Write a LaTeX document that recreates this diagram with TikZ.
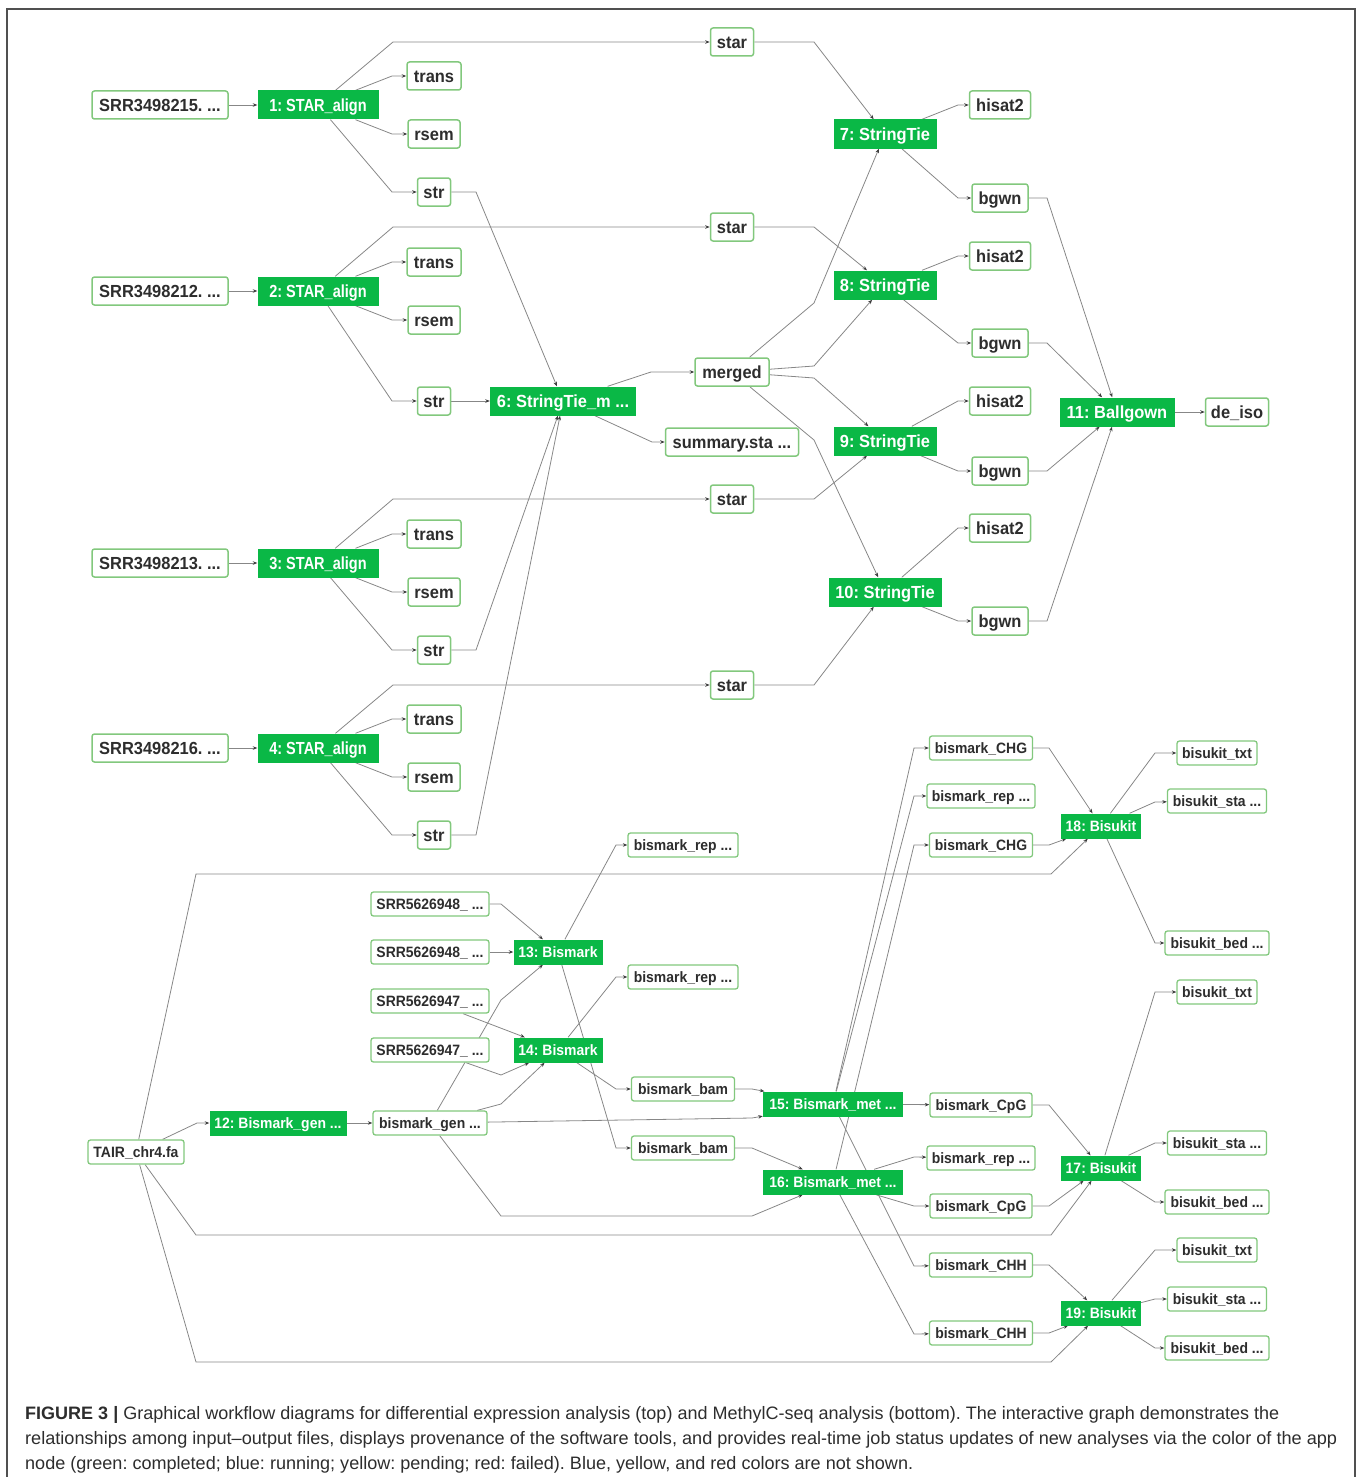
\documentclass[tikz,border=0pt]{standalone}
\usepackage{fontspec}
\usepackage{graphicx}
\usetikzlibrary{arrows.meta,backgrounds}
\frenchspacing
\newfontfamily\lsans{Liberation Sans}
\newfontfamily\lsansn[FakeStretch=0.94]{Liberation Sans}
\newfontfamily\lsanss[FakeStretch=0.93]{Liberation Sans}
\newfontfamily\lsansc[FakeStretch=0.83]{Liberation Sans}
\definecolor{appg}{RGB}{10,184,70}
\definecolor{boxg}{RGB}{130,200,125}
\definecolor{txtd}{RGB}{45,45,45}
\definecolor{edgec}{RGB}{135,135,135}
\definecolor{tipc}{RGB}{60,60,60}
\definecolor{framec}{RGB}{80,80,80}
\newcommand{\bigf}{\lsansn\bfseries\fontsize{17.5}{19}\selectfont}
\newcommand{\bigfc}{\lsansc\bfseries\fontsize{17.5}{19}\selectfont}
\newcommand{\smallf}{\lsanss\bfseries\fontsize{15}{17}\selectfont}
\newcommand{\capf}{\lsans\fontsize{18}{20}\selectfont}
\tikzset{
  fnode/.style={draw=boxg, line width=1.5pt, rounded corners=2.5pt, fill=white, text=txtd,
    font=\bigf, inner xsep=4pt, inner ysep=0pt, minimum height=28pt,
    text height=12.5pt, text depth=0pt, minimum width=#1},
  anode/.style={fill=appg, text=white, font=\bigf, inner xsep=4pt, inner ysep=0pt,
    minimum height=29pt, text height=12.5pt, text depth=0pt, minimum width=#1},
  sfnode/.style={fnode=#1, font=\smallf, minimum height=24pt, line width=1.3pt, text height=10.7pt},
  sanode/.style={anode=#1, font=\smallf, minimum height=25pt, text height=10.7pt},
  edge/.style={draw=edgec, line width=0.8pt, -{Stealth[length=4.5pt,width=3.5pt,color=tipc]}},
  capline/.style={anchor=base west, inner sep=0pt, text=txtd}
}
\begin{document}
\begin{tikzpicture}[x=1pt,y=-1pt]
\useasboundingbox (0,0) rectangle (1358,1477);
\draw[framec, line width=1.5pt] (7,1495) -- (7,9) -- (1355,9) -- (1355,1495);

% ---------- top workflow ----------
\node[fnode=136] (srr1) at (160,105) {SRR3498215. ...};
\node[anode=121, font=\bigfc] (sa1) at (318,105) {1: STAR\_align};
\node[fnode=54] (tr1) at (434,76) {trans};
\node[fnode=52] (rs1) at (434,134) {rsem};
\node[fnode=33] (str1) at (434,192) {str};
\node[fnode=43] (sta1) at (732,42) {star};
\node[anode=103] (sti7) at (885,134) {7: StringTie};
\node[fnode=61] (hs7) at (1000,105) {hisat2};
\node[fnode=56] (bg7) at (1000,198) {bgwn};

\node[fnode=136] (srr2) at (160,291) {SRR3498212. ...};
\node[anode=121, font=\bigfc] (sa2) at (318,291) {2: STAR\_align};
\node[fnode=54] (tr2) at (434,262) {trans};
\node[fnode=52] (rs2) at (434,320) {rsem};
\node[fnode=33] (str2) at (434,401) {str};
\node[fnode=43] (sta2) at (732,227) {star};
\node[anode=103] (sti8) at (885,285) {8: StringTie};
\node[fnode=61] (hs8) at (1000,256) {hisat2};
\node[fnode=56] (bg8) at (1000,343) {bgwn};

\node[anode=146] (stm) at (563,401) {6: StringTie\_m ...};
\node[fnode=74] (mrg) at (732,372) {merged};
\node[fnode=133] (sum) at (732,442) {summary.sta ...};
\node[fnode=61] (hs9) at (1000,401) {hisat2};
\node[anode=103] (sti9) at (885,441) {9: StringTie};
\node[fnode=56] (bg9) at (1000,471) {bgwn};
\node[anode=115] (bal) at (1117,412) {11: Ballgown};
\node[fnode=63] (deiso) at (1237,412) {de\_iso};

\node[fnode=43] (sta3) at (732,499) {star};
\node[fnode=136] (srr3) at (160,563) {SRR3498213. ...};
\node[anode=121, font=\bigfc] (sa3) at (318,563) {3: STAR\_align};
\node[fnode=54] (tr3) at (434,534) {trans};
\node[fnode=52] (rs3) at (434,592) {rsem};
\node[fnode=33] (str3) at (434,650) {str};
\node[fnode=61] (hs10) at (1000,528) {hisat2};
\node[anode=113] (sti10) at (885,592) {10: StringTie};
\node[fnode=56] (bg10) at (1000,621) {bgwn};

\node[fnode=43] (sta4) at (732,685) {star};
\node[fnode=136] (srr4) at (160,748) {SRR3498216. ...};
\node[anode=121, font=\bigfc] (sa4) at (318,748) {4: STAR\_align};
\node[fnode=54] (tr4) at (434,719) {trans};
\node[fnode=52] (rs4) at (434,777) {rsem};
\node[fnode=33] (str4) at (434,835) {str};

% ---------- bottom workflow ----------
\node[sfnode=103] (chg1) at (981,748) {bismark\_CHG};
\node[sfnode=108] (rep15) at (981,796) {bismark\_rep ...};
\node[sfnode=103] (chg2) at (981,845) {bismark\_CHG};
\node[sfnode=80] (txt18) at (1217,753) {bisukit\_txt};
\node[sfnode=99] (sta18) at (1217,801) {bisukit\_sta ...};
\node[sanode=80] (bk18) at (1101,826) {18: Bisukit};
\node[sfnode=104] (bed18) at (1217,943) {bisukit\_bed ...};
\node[sfnode=110] (rep13) at (683,845) {bismark\_rep ...};
\node[sfnode=118] (s48a) at (430,904) {SRR5626948\_ ...};
\node[sfnode=118] (s48b) at (430,952) {SRR5626948\_ ...};
\node[sanode=89] (bm13) at (558,952) {13: Bismark};
\node[sfnode=110] (rep14) at (683,977) {bismark\_rep ...};
\node[sfnode=80] (txt17) at (1217,992) {bisukit\_txt};
\node[sfnode=118] (s47a) at (430,1001) {SRR5626947\_ ...};
\node[sfnode=118] (s47b) at (430,1050) {SRR5626947\_ ...};
\node[sanode=89] (bm14) at (558,1050) {14: Bismark};
\node[sfnode=103] (bam1) at (683,1089) {bismark\_bam};
\node[sanode=140] (met15) at (833,1104) {15: Bismark\_met ...};
\node[sfnode=102] (cpg15) at (981,1105) {bismark\_CpG};
\node[sanode=137] (bg12) at (278,1123) {12: Bismark\_gen ...};
\node[sfnode=114] (bgen) at (430,1123) {bismark\_gen ...};
\node[sfnode=96] (tair) at (136,1152) {TAIR\_chr4.fa};
\node[sfnode=103] (bam2) at (683,1148) {bismark\_bam};
\node[sfnode=108] (rep16) at (981,1158) {bismark\_rep ...};
\node[sanode=140] (met16) at (833,1182) {16: Bismark\_met ...};
\node[sfnode=102] (cpg16) at (981,1206) {bismark\_CpG};
\node[sfnode=99] (sta17) at (1217,1143) {bisukit\_sta ...};
\node[sanode=80] (bk17) at (1101,1168) {17: Bisukit};
\node[sfnode=104] (bed17) at (1217,1202) {bisukit\_bed ...};
\node[sfnode=103] (chh1) at (981,1265) {bismark\_CHH};
\node[sfnode=80] (txt19) at (1217,1250) {bisukit\_txt};
\node[sfnode=99] (sta19) at (1217,1299) {bisukit\_sta ...};
\node[sanode=80] (bk19) at (1101,1313) {19: Bisukit};
\node[sfnode=103] (chh2) at (981,1333) {bismark\_CHH};
\node[sfnode=104] (bed19) at (1217,1348) {bisukit\_bed ...};

% ---------- caption ----------
\node[capline] (cap1) at (25,1419) {\resizebox{1254pt}{\height}{\capf\textbf{FIGURE 3 |} Graphical workflow diagrams for differential expression analysis (top) and MethylC-seq analysis (bottom). The interactive graph demonstrates the}};
\node[capline] (cap2) at (25,1444) {\resizebox{1312pt}{\height}{\capf relationships among input–output files, displays provenance of the software tools, and provides real-time job status updates of new analyses via the color of the app}};
\node[capline] (cap3) at (25,1469) {\resizebox{888pt}{\height}{\capf node (green: completed; blue: running; yellow: pending; red: failed). Blue, yellow, and red colors are not shown.}};

\begin{pgfonlayer}{background}
% top edges
\draw[edge] (srr1) -- (sa1);
\draw[edge] (sa1) -- (393,42) -- (sta1);
\draw[edge] (sa1) -- (392,76) -- (tr1);
\draw[edge] (sa1) -- (392,134) -- (rs1);
\draw[edge] (sa1) -- (392,192) -- (str1);
\draw[edge] (str1) -- (476,192) -- (stm);
\draw[edge] (srr2) -- (sa2);
\draw[edge] (sa2) -- (393,227) -- (sta2);
\draw[edge] (sa2) -- (392,262) -- (tr2);
\draw[edge] (sa2) -- (392,320) -- (rs2);
\draw[edge] (sa2) -- (392,401) -- (str2);
\draw[edge] (str2) -- (stm);
\draw[edge] (srr3) -- (sa3);
\draw[edge] (sa3) -- (393,499) -- (sta3);
\draw[edge] (sa3) -- (392,534) -- (tr3);
\draw[edge] (sa3) -- (392,592) -- (rs3);
\draw[edge] (sa3) -- (392,650) -- (str3);
\draw[edge] (str3) -- (476,650) -- (stm);
\draw[edge] (srr4) -- (sa4);
\draw[edge] (sa4) -- (393,685) -- (sta4);
\draw[edge] (sa4) -- (392,719) -- (tr4);
\draw[edge] (sa4) -- (392,777) -- (rs4);
\draw[edge] (sa4) -- (392,835) -- (str4);
\draw[edge] (str4) -- (476,835) -- (stm);
\draw[edge] (stm) -- (651,372) -- (mrg);
\draw[edge] (stm) -- (652,442) -- (sum);
\draw[edge] (mrg) -- (814,303) -- (sti7);
\draw[edge] (mrg) -- (814,366) -- (sti8);
\draw[edge] (mrg) -- (814,378) -- (sti9);
\draw[edge] (mrg) -- (814,440) -- (sti10);
\draw[edge] (sta1) -- (814,42) -- (sti7);
\draw[edge] (sta2) -- (814,227) -- (sti8);
\draw[edge] (sta3) -- (814,499) -- (sti9);
\draw[edge] (sta4) -- (814,685) -- (sti10);
\draw[edge] (sti7) -- (958,105) -- (hs7);
\draw[edge] (sti7) -- (958,198) -- (bg7);
\draw[edge] (sti8) -- (958,256) -- (hs8);
\draw[edge] (sti8) -- (958,343) -- (bg8);
\draw[edge] (sti9) -- (958,401) -- (hs9);
\draw[edge] (sti9) -- (958,471) -- (bg9);
\draw[edge] (sti10) -- (958,528) -- (hs10);
\draw[edge] (sti10) -- (958,621) -- (bg10);
\draw[edge] (bg7) -- (1047,198) -- (bal);
\draw[edge] (bg8) -- (1047,343) -- (bal);
\draw[edge] (bg9) -- (1047,471) -- (bal);
\draw[edge] (bg10) -- (1047,621) -- (bal);
\draw[edge] (bal) -- (deiso);
% bottom edges
\draw[edge] (tair) -- (197,1123) -- (bg12);
\draw[edge] (bg12) -- (bgen);
\draw[edge] (tair) -- (196,874) -- (1051,874) -- (bk18);
\draw[edge] (tair) -- (196,1235) -- (1051,1235) -- (bk17);
\draw[edge] (tair) -- (196,1362) -- (1051,1362) -- (bk19);
\draw[edge] (bgen) -- (501,1000) -- (bm13);
\draw[edge] (bgen) -- (501,1104) -- (bm14);
\draw[edge] (bgen) -- (752,1118) -- (met15);
\draw[edge] (bgen) -- (501,1216) -- (752,1216) -- (met16);
\draw[edge] (s48a) -- (501,904) -- (bm13);
\draw[edge] (s48b) -- (bm13);
\draw[edge] (s47a) -- (bm14);
\draw[edge] (s47b) -- (501,1075) -- (bm14);
\draw[edge] (bm13) -- (616,845) -- (rep13);
\draw[edge] (bm13) -- (616,1148) -- (bam2);
\draw[edge] (bm14) -- (616,977) -- (rep14);
\draw[edge] (bm14) -- (616,1089) -- (bam1);
\draw[edge] (bam1) -- (752,1089) -- (met15);
\draw[edge] (bam2) -- (752,1148) -- (met16);
\draw[edge] (met15) -- (cpg15);
\draw[edge] (met15) -- (914,748) -- (chg1);
\draw[edge] (met15) -- (914,796) -- (rep15);
\draw[edge] (met15) -- (914,1266) -- (chh1);
\draw[edge] (met16) -- (914,845) -- (chg2);
\draw[edge] (met16) -- (914,1157) -- (rep16);
\draw[edge] (met16) -- (914,1206) -- (cpg16);
\draw[edge] (met16) -- (914,1334) -- (chh2);
\draw[edge] (chg1) -- (1049,748) -- (bk18);
\draw[edge] (chg2) -- (1049,845) -- (bk18);
\draw[edge] (bk18) -- (1155,753) -- (txt18);
\draw[edge] (bk18) -- (1155,802) -- (sta18);
\draw[edge] (bk18) -- (1155,943) -- (bed18);
\draw[edge] (cpg15) -- (1049,1105) -- (bk17);
\draw[edge] (cpg16) -- (1049,1206) -- (bk17);
\draw[edge] (bk17) -- (1155,992) -- (txt17);
\draw[edge] (bk17) -- (1155,1143) -- (sta17);
\draw[edge] (bk17) -- (1155,1202) -- (bed17);
\draw[edge] (chh1) -- (1049,1265) -- (bk19);
\draw[edge] (chh2) -- (1049,1333) -- (bk19);
\draw[edge] (bk19) -- (1155,1250) -- (txt19);
\draw[edge] (bk19) -- (1155,1299) -- (sta19);
\draw[edge] (bk19) -- (1155,1348) -- (bed19);
\end{pgfonlayer}
\end{tikzpicture}
\end{document}
